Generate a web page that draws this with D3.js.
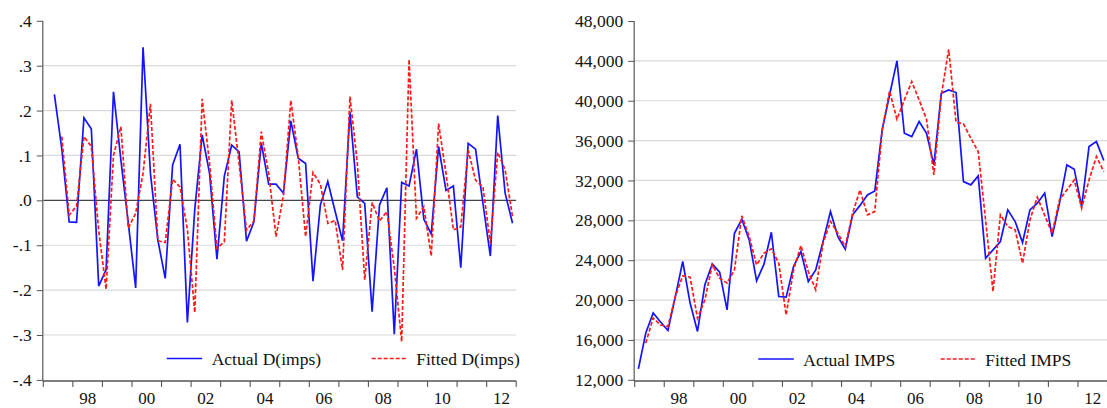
<!DOCTYPE html>
<html>
<head>
<meta charset="utf-8">
<script src="https://cdn.jsdelivr.net/npm/d3@7"></script>
<style>
  body { margin: 0; background: #fff; }
  svg text { font-family: "Liberation Serif", "Times New Roman", serif; font-size: 17.5px; fill: #111; }
</style>
</head>
<body>
<svg id="chart" width="1107" height="408"></svg>
<script>
// Quarterly sample 1997Q1 - 2012Q4
const startYear = 1997;
const endYear = 2013;
const yearLabels = ["98", "00", "02", "04", "06", "08", "10", "12"];
const yearLabelValues = [1998, 2000, 2002, 2004, 2006, 2008, 2010, 2012];

// D(imps): quarterly log change of imports (first value lost to differencing)
const dImpsActual = [null,
  0.236, 0.115, -0.048, -0.049, 0.184, 0.159, -0.191, -0.154,
  0.242, 0.090, -0.050, -0.195, 0.341, 0.060, -0.088, -0.174,
  0.079, 0.125, -0.272, -0.020, 0.146, 0.060, -0.131, 0.054,
  0.123, 0.108, -0.091, -0.048, 0.128, 0.036, 0.036, 0.016,
  0.177, 0.094, 0.082, -0.180, -0.010, 0.042, -0.025, -0.090,
  0.197, 0.008, -0.007, -0.248, -0.010, 0.028, -0.298, 0.040,
  0.032, 0.114, -0.042, -0.075, 0.120, 0.022, 0.032, -0.150,
  0.127, 0.114, -0.007, -0.124, 0.189, 0.016, -0.051];
const dImpsFitted = [null, null,
  0.142, -0.033, -0.013, 0.142, 0.120, -0.068, -0.198,
  0.100, 0.164, -0.062, -0.029, 0.060, 0.215, -0.090, -0.094,
  0.047, 0.030, -0.065, -0.250, 0.226, 0.082, -0.107, -0.092,
  0.223, 0.082, -0.066, -0.046, 0.153, 0.060, -0.081, 0.012,
  0.223, 0.097, -0.081, 0.062, 0.036, -0.051, -0.045, -0.155,
  0.231, 0.082, -0.177, -0.005, -0.046, -0.025, -0.150, -0.315,
  0.314, -0.040, -0.014, -0.124, 0.171, 0.060, -0.066, -0.059,
  0.112, 0.045, 0.030, -0.096, 0.107, 0.068, -0.036];
const dImpsTickValues = [0.4, 0.3, 0.2, 0.1, 0, -0.1, -0.2, -0.3, -0.4];
const dImpsTickLabels = [".4", ".3", ".2", ".1", ".0", "-.1", "-.2", "-.3", "-.4"];

// IMPS levels
const impsActual = [
  13100, 16700, 18700, 17800, 16950, 20350, 23870, 19700,
  16850, 21530, 23630, 22800, 19020, 26700, 28110, 26040,
  21930, 23600, 26800, 20360, 20300, 23370, 24870, 21860,
  23030, 25870, 28880, 26370, 25100, 28550, 29500, 30550,
  30950, 37070, 40580, 44000, 36740, 36400, 37910, 36740,
  33560, 40750, 41080, 40820, 31890, 31560, 32460, 24200,
  25040, 25870, 29050, 27880, 25770, 29050, 29720, 30720,
  26370, 29720, 33560, 33130, 29380, 35400, 35900, 34000];
const impsFitted = [null,
  15680, 18200, 17500, 17350, 20360, 22430, 22300,
  18180, 20020, 23530, 22200, 21700, 23030, 28450, 26370,
  23530, 24700, 25140, 23700, 18500, 23030, 25470, 22860,
  21030, 25700, 27880, 26710, 25370, 28710, 31050, 28550,
  28880, 37070, 40980, 38140, 40080, 41920, 40080, 38140,
  32560, 40500, 45160, 37840, 37670, 36240, 34900, 28000,
  20860, 28550, 27380, 27040, 23700, 28050, 30320, 28500,
  26710, 30050, 31050, 32050, 29210, 32050, 34400, 32900];
const impsTickValues = [48000, 44000, 40000, 36000, 32000, 28000, 24000, 20000, 16000, 12000];

const legendActualLeft = "Actual D(imps)";
const legendFittedLeft = "Fitted D(imps)";
const legendActualRight = "Actual IMPS";
const legendFittedRight = "Fitted IMPS";

const svg = d3.select("#chart");
const AXIS_Y = 381;
const BLUE = "#1414ff";
const RED = "#ff1a1a";

// period midpoint of quarter i
const qTime = i => startYear + (i + 0.5) / 4;

function drawPanel(cfg) {
  const g = svg.append("g");
  const x = d3.scaleLinear().domain([startYear, endYear]).range(cfg.xRange);
  const y = d3.scaleLinear().domain(cfg.yDomain).range(cfg.yRange);
  const [xl, xr] = cfg.xRange;

  // horizontal gridlines (interior ticks only)
  const lo = Math.min(...cfg.yDomain), hi = Math.max(...cfg.yDomain);
  g.append("g").selectAll("line")
    .data(cfg.yTicks.filter(v => v > lo && v < hi && v !== 0))
    .join("line")
    .attr("x1", xl).attr("x2", xr)
    .attr("y1", d => y(d)).attr("y2", d => y(d))
    .attr("stroke", "#d9d9d9").attr("stroke-width", 1.2);

  if (cfg.zeroLine) {
    g.append("line")
      .attr("x1", xl).attr("x2", xr)
      .attr("y1", y(0)).attr("y2", y(0))
      .attr("stroke", "#444").attr("stroke-width", 1.2);
  }

  // y axis
  const yAxis = d3.axisLeft(y)
    .tickValues(cfg.yTicks)
    .tickFormat(cfg.yFormat)
    .tickSize(6).tickSizeOuter(0).tickPadding(5);
  const ya = g.append("g").attr("transform", `translate(${xl - 0.5},0)`).call(yAxis);
  ya.select(".domain").attr("stroke", "#666").attr("stroke-width", 1.3)
    .attr("d", `M0,${cfg.yRange[1]}V${AXIS_Y}`);
  ya.selectAll(".tick line").attr("stroke", "#555");
  ya.selectAll("text").attr("font-size", null).attr("fill", "#111").attr("font-family", null);

  // x axis: year boundaries as ticks, labels centred in the year
  const yearTicks = d3.range(startYear, endYear + 1);
  const xa = g.append("g");
  xa.append("line")
    .attr("x1", xl - 0.5).attr("x2", xr)
    .attr("y1", AXIS_Y).attr("y2", AXIS_Y)
    .attr("stroke", "#555").attr("stroke-width", 1.3);
  xa.selectAll("line.tk").data(yearTicks).join("line").attr("class", "tk")
    .attr("x1", d => x(d)).attr("x2", d => x(d))
    .attr("y1", AXIS_Y).attr("y2", AXIS_Y + 6)
    .attr("stroke", "#555").attr("stroke-width", 1.1);
  xa.selectAll("text").data(yearLabelValues).join("text")
    .attr("x", d => x(d + 0.5)).attr("y", 404)
    .attr("text-anchor", "middle")
    .style("font-size", "17px")
    .text((d, i) => yearLabels[i]);

  const line = d3.line()
    .defined(d => d.v !== null)
    .x(d => x(qTime(d.i)))
    .y(d => y(d.v));
  const toPts = arr => arr.map((v, i) => ({ i, v }));

  g.append("path").datum(toPts(cfg.actual))
    .attr("d", line).attr("fill", "none")
    .attr("stroke", BLUE).attr("stroke-width", 1.7)
    .attr("stroke-linejoin", "miter");
  g.append("path").datum(toPts(cfg.fitted))
    .attr("d", line).attr("fill", "none")
    .attr("stroke", RED).attr("stroke-width", 1.7)
    .attr("stroke-dasharray", "4,2");

  // legend
  const lg = g.append("g");
  const ly = cfg.legendY;
  lg.append("line").attr("x1", cfg.legendX[0]).attr("x2", cfg.legendX[0] + 35.5)
    .attr("y1", ly).attr("y2", ly).attr("stroke", BLUE).attr("stroke-width", 1.7);
  lg.append("text").attr("x", cfg.legendX[0] + 45).attr("y", ly + 6.5).text(cfg.legendText[0]);
  lg.append("line").attr("x1", cfg.legendX[1]).attr("x2", cfg.legendX[1] + 35.5)
    .attr("y1", ly).attr("y2", ly).attr("stroke", RED).attr("stroke-width", 1.7)
    .attr("stroke-dasharray", "4,2");
  lg.append("text").attr("x", cfg.legendX[1] + 44.5).attr("y", ly + 6.5).text(cfg.legendText[1]);
}

drawPanel({
  xRange: [43.3, 516.2],
  yDomain: [-0.4, 0.4],
  yRange: [379.9, 20.8],
  yTicks: dImpsTickValues,
  yFormat: (d, i) => dImpsTickLabels[i],
  zeroLine: true,
  actual: dImpsActual,
  fitted: dImpsFitted,
  legendX: [166.7, 371.7],
  legendY: 358.5,
  legendText: [legendActualLeft, legendFittedLeft]
});

drawPanel({
  xRange: [634.7, 1107.5],
  yDomain: [12000, 48000],
  yRange: [379.8, 21],
  yTicks: impsTickValues,
  yFormat: d3.format(","),
  zeroLine: false,
  actual: impsActual,
  fitted: impsFitted,
  legendX: [758.3, 940.7],
  legendY: 359,
  legendText: [legendActualRight, legendFittedRight]
});
</script>
</body>
</html>
